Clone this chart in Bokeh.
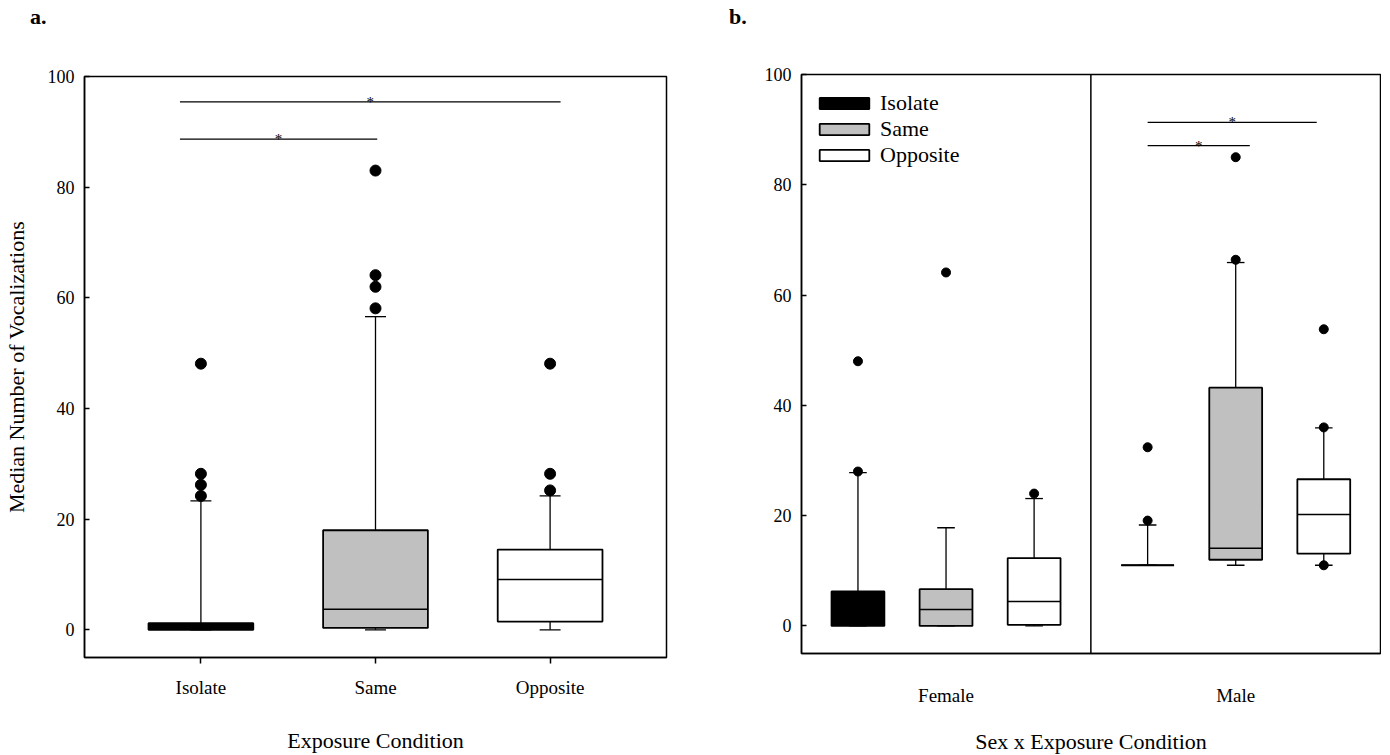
from bokeh.plotting import figure
from bokeh.models import FixedTicker, Range1d, Legend, LegendItem, ColumnDataSource, Span, Div
from bokeh.layouts import row, column
from bokeh.embed import file_html
from bokeh.resources import INLINE
from bokeh.core.properties import value

FONT = "Liberation Serif"

# ---------------- data ----------------
conditions = ["Isolate", "Same", "Opposite"]
fills = ["black", "#c0c0c0", "white"]
panel_titles = ["a.", "b."]

# Panel a: Exposure condition
a_low = [0.0, 0.0, 0.0]
a_q1 = [0.0, 0.35, 1.5]
a_median = [0.6, 3.7, 9.1]
a_q3 = [1.2, 18.0, 14.5]
a_high = [23.3, 56.6, 24.2]
a_outliers = [[24.2, 26.2, 28.2, 48.1], [58.1, 62.0, 64.1, 83.0], [25.2, 28.2, 48.1]]
a_sig_pairs = [("Isolate", "Same"), ("Isolate", "Opposite")]
a_sig_y = [88.7, 95.4]

# Panel b: Sex x Exposure condition
sexes = ["Female", "Male"]
b_low = {"Female": [0.0, 0.0, 0.0], "Male": [11.0, 11.0, 11.0]}
b_q1 = {"Female": [0.0, 0.0, 0.2], "Male": [11.0, 12.0, 13.1]}
b_median = {"Female": [3.0, 3.0, 4.45], "Male": [11.0, 14.1, 20.2]}
b_q3 = {"Female": [6.24, 6.67, 12.3], "Male": [11.0, 43.2, 26.6]}
b_high = {"Female": [27.8, 17.8, 23.1], "Male": [18.3, 65.9, 35.9]}
b_outliers = {"Female": [[28.0, 48.0], [64.1], [24.0]],
              "Male": [[19.1, 32.4], [66.4, 85.0], [36.0, 53.8, 11.0]]}
b_sig_pairs = [(("Male", "Isolate"), ("Male", "Same")), (("Male", "Isolate"), ("Male", "Opposite"))]
b_sig_y = [87.1, 91.3]

# ---------------- layout constants ----------------
BOX_W = 0.6
A_CAP = 0.12
B_CAP = 0.2
TITLE_H = 36


def style_axes(p):
    p.xgrid.visible = False
    p.ygrid.visible = False
    p.outline_line_color = "black"
    p.outline_line_width = 1.5
    p.background_fill_color = "white"
    p.border_fill_color = "white"
    for ax in (p.xaxis[0], p.yaxis[0]):
        ax.axis_line_color = "black"
        ax.axis_line_width = 1.5
        ax.major_tick_line_color = "black"
        ax.major_tick_line_width = 1.5
        ax.minor_tick_line_color = None
        ax.major_label_text_font = FONT
        ax.major_label_text_color = "black"
        ax.axis_label_text_font = FONT
        ax.axis_label_text_font_style = "normal"
        ax.axis_label_text_font_size = "22px"
        ax.axis_label_text_color = "black"
    p.yaxis.ticker = FixedTicker(ticks=[0, 20, 40, 60, 80, 100])
    p.yaxis.major_label_text_font_size = "18px"
    p.yaxis.major_tick_in = 5
    p.yaxis.major_tick_out = 0
    p.yaxis.major_label_standoff = 10


def draw_boxes(p, xs, low, q1, med, q3, high, fill, cap_w, dot_size, outs):
    src = ColumnDataSource(dict(
        x=xs, low=low, q1=q1, med=med, q3=q3, high=high,
        bl=[x - BOX_W / 2 for x in xs], br=[x + BOX_W / 2 for x in xs],
        cl=[x - cap_w / 2 for x in xs], cr=[x + cap_w / 2 for x in xs],
    ))
    p.segment(x0="x", y0="q3", x1="x", y1="high", source=src, line_color="black", line_width=1.3)
    p.segment(x0="x", y0="q1", x1="x", y1="low", source=src, line_color="black", line_width=1.3)
    r = p.vbar(x="x", width=BOX_W, bottom="q1", top="q3", source=src,
               fill_color=fill, line_color="black", line_width=1.8)
    p.segment(x0="bl", y0="med", x1="br", y1="med", source=src, line_color="black", line_width=1.5)
    p.segment(x0="cl", y0="high", x1="cr", y1="high", source=src, line_color="black", line_width=1.3)
    p.segment(x0="cl", y0="low", x1="cr", y1="low", source=src, line_color="black", line_width=1.3)
    ox, oy = [], []
    for x, vals in zip(xs, outs):
        for v in vals:
            ox.append(x)
            oy.append(v)
    p.scatter(ox, oy, size=dot_size, marker="circle", fill_color="black", line_color="black")
    return r


def draw_sig(p, x0s, x1s, ys):
    src = ColumnDataSource(dict(x0=x0s, x1=x1s, y=ys,
                                xm=[(a + b) / 2 for a, b in zip(x0s, x1s)],
                                t=["*"] * len(ys)))
    p.segment(x0="x0", y0="y", x1="x1", y1="y", source=src, line_color="black", line_width=1.3)
    p.text(x="xm", y="y", text="t", source=src, text_font=value(FONT), text_font_size="15px",
           text_align="center", text_baseline="alphabetic", text_color="black")


def title_div(text, width):
    return Div(text=text, width=width, height=TITLE_H,
               styles={"font-family": "'Liberation Serif', serif", "font-size": "22px",
                       "font-weight": "bold", "color": "black", "padding-left": "30px",
                       "line-height": "34px", "margin": "0px"})


# ---------------- panel a ----------------
pos_a = {c: i + 1 for i, c in enumerate(conditions)}
fa = figure(frame_width=582, frame_height=581, x_range=Range1d(1 / 3, 11 / 3), y_range=Range1d(-5, 100),
            output_backend="svg", toolbar_location=None,
            min_border_left=77, min_border_right=33, min_border_top=76 - TITLE_H, min_border_bottom=80)
style_axes(fa)
for i, c in enumerate(conditions):
    draw_boxes(fa, [pos_a[c]], [a_low[i]], [a_q1[i]], [a_median[i]], [a_q3[i]], [a_high[i]],
               fills[i], A_CAP, 11, [a_outliers[i]])
draw_sig(fa, [pos_a[a] - 0.12 for a, b in a_sig_pairs],
         [pos_a[b] + off for (a, b), off in zip(a_sig_pairs, [0.01, 0.06])], a_sig_y)
fa.xaxis.ticker = FixedTicker(ticks=[pos_a[c] for c in conditions])
fa.xaxis.major_label_overrides = {pos_a[c]: c for c in conditions}
fa.xaxis.major_label_text_font_size = "19px"
fa.xaxis.major_tick_in = 0
fa.xaxis.major_tick_out = 6
fa.xaxis.major_label_standoff = 13
fa.xaxis.axis_label = "Exposure Condition"
fa.xaxis.axis_label_standoff = 27
fa.yaxis.axis_label = "Median Number of Vocalizations"
fa.yaxis.axis_label_standoff = 16

# ---------------- panel b ----------------
FIRST = 0.641
GROUP_STEP = 3.289
pos_b = {(s, c): round(FIRST + g * GROUP_STEP + i, 3)
         for g, s in enumerate(sexes) for i, c in enumerate(conditions)}
group_centers = [pos_b[(s, conditions[1])] for s in sexes]
fb = figure(frame_width=579, frame_height=579, x_range=Range1d(0, 6.574), y_range=Range1d(-5, 100),
            output_backend="svg", toolbar_location=None,
            min_border_left=102, min_border_right=1, min_border_top=74 - TITLE_H, min_border_bottom=84)
style_axes(fb)
items = []
for i, c in enumerate(conditions):
    xs = [pos_b[(s, c)] for s in sexes]
    r = draw_boxes(fb, xs, [b_low[s][i] for s in sexes], [b_q1[s][i] for s in sexes],
                   [b_median[s][i] for s in sexes], [b_q3[s][i] for s in sexes],
                   [b_high[s][i] for s in sexes], fills[i], B_CAP, 9,
                   [b_outliers[s][i] for s in sexes])
    items.append(LegendItem(label=c, renderers=[r]))
divider = (pos_b[("Female", "Opposite")] + pos_b[("Male", "Isolate")]) / 2
fb.add_layout(Span(location=divider, dimension="height", line_color="black", line_width=1.5))
draw_sig(fb, [pos_b[a] for a, b in b_sig_pairs],
         [pos_b[b] + off for (a, b), off in zip(b_sig_pairs, [0.16, -0.08])], b_sig_y)
legend = Legend(items=items, location=(12, 485), padding=0, spacing=0, margin=0,
                glyph_width=62, glyph_height=14, label_height=20, label_standoff=5,
                label_text_font=FONT, label_text_font_size="22px", label_text_color="black",
                border_line_alpha=0, background_fill_alpha=0)
fb.add_layout(legend)
fb.xaxis.ticker = FixedTicker(ticks=group_centers)
fb.xaxis.major_label_overrides = {gc: s for gc, s in zip(group_centers, sexes)}
fb.xaxis.major_label_text_font_size = "19px"
fb.xaxis.major_tick_in = 0
fb.xaxis.major_tick_out = 0
fb.xaxis.major_label_standoff = 31
fb.xaxis.axis_label = "Sex x Exposure Condition"
fb.xaxis.axis_label_standoff = 20

layout = row(column(title_div(panel_titles[0], 660), fa),
             column(title_div(panel_titles[1], 650), fb))
open("out.html", "w").write(file_html(layout, INLINE))
